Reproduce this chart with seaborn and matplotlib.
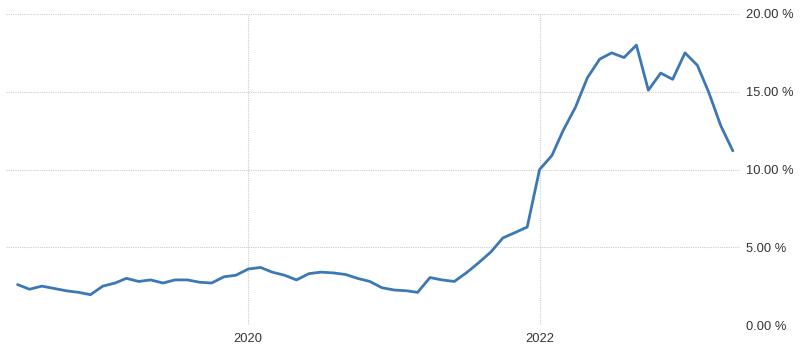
import matplotlib
matplotlib.use("Agg")
import matplotlib.pyplot as plt
import seaborn as sns
import pandas as pd

months = pd.date_range("2018-06-01", "2023-05-01", freq="MS")
values = [2.6, 2.3, 2.5, 2.35, 2.2, 2.1, 1.95, 2.5, 2.7, 3.0,
          2.8, 2.9, 2.7, 2.9, 2.9, 2.75, 2.7, 3.1, 3.2, 3.6,
          3.7, 3.4, 3.2, 2.9, 3.3, 3.4, 3.35, 3.25, 3.0, 2.8,
          2.4, 2.25, 2.2, 2.1, 3.05, 2.9, 2.8, 3.35, 4.0, 4.7,
          5.6, 5.95, 6.3, 10.0, 10.9, 12.5, 14.0, 15.9, 17.1, 17.5,
          17.2, 18.0, 15.1, 16.2, 15.8, 17.5, 16.7, 15.0, 12.8, 11.2]
y_ticks = [0, 5, 10, 15, 20]
y_tick_labels = ["0.00 %", "5.00 %", "10.00 %", "15.00 %", "20.00 %"]
x_ticks = ["2020-01-01", "2022-01-01"]
x_tick_labels = ["2020", "2022"]

df = pd.DataFrame({"date": months, "value": values})

sns.set_style("white")
plt.rcParams["font.family"] = ["Liberation Sans", "DejaVu Sans"]

fig = plt.figure(figsize=(8.0, 3.53), dpi=100)
ax = fig.add_axes([6/800, (353-325)/353, (740-6)/800, (325-14)/353])

sns.lineplot(data=df, x="date", y="value", ax=ax, color="#3c78b4",
             linewidth=2.0, solid_joinstyle="round", solid_capstyle="round")

ax.set_ylim(0, 20)
ax.set_xlim(pd.Timestamp("2018-05-03"), pd.Timestamp("2023-05-19"))
ax.yaxis.tick_right()
ax.set_yticks(y_ticks)
ax.set_yticklabels(y_tick_labels)
ax.set_xticks([pd.Timestamp(t) for t in x_ticks])
ax.set_xticklabels(x_tick_labels)
ax.tick_params(axis="both", length=0, labelsize=9.3, colors="#333333")
ax.tick_params(axis="y", pad=4)
ax.tick_params(axis="x", pad=6)
ax.set_xlabel("")
ax.set_ylabel("")
for s in ax.spines.values():
    s.set_visible(False)
ax.grid(True, color="#cccccc", linestyle=(0, (1, 1)), linewidth=0.8)
ax.set_axisbelow(True)

fig.savefig("out.png", dpi=100)
